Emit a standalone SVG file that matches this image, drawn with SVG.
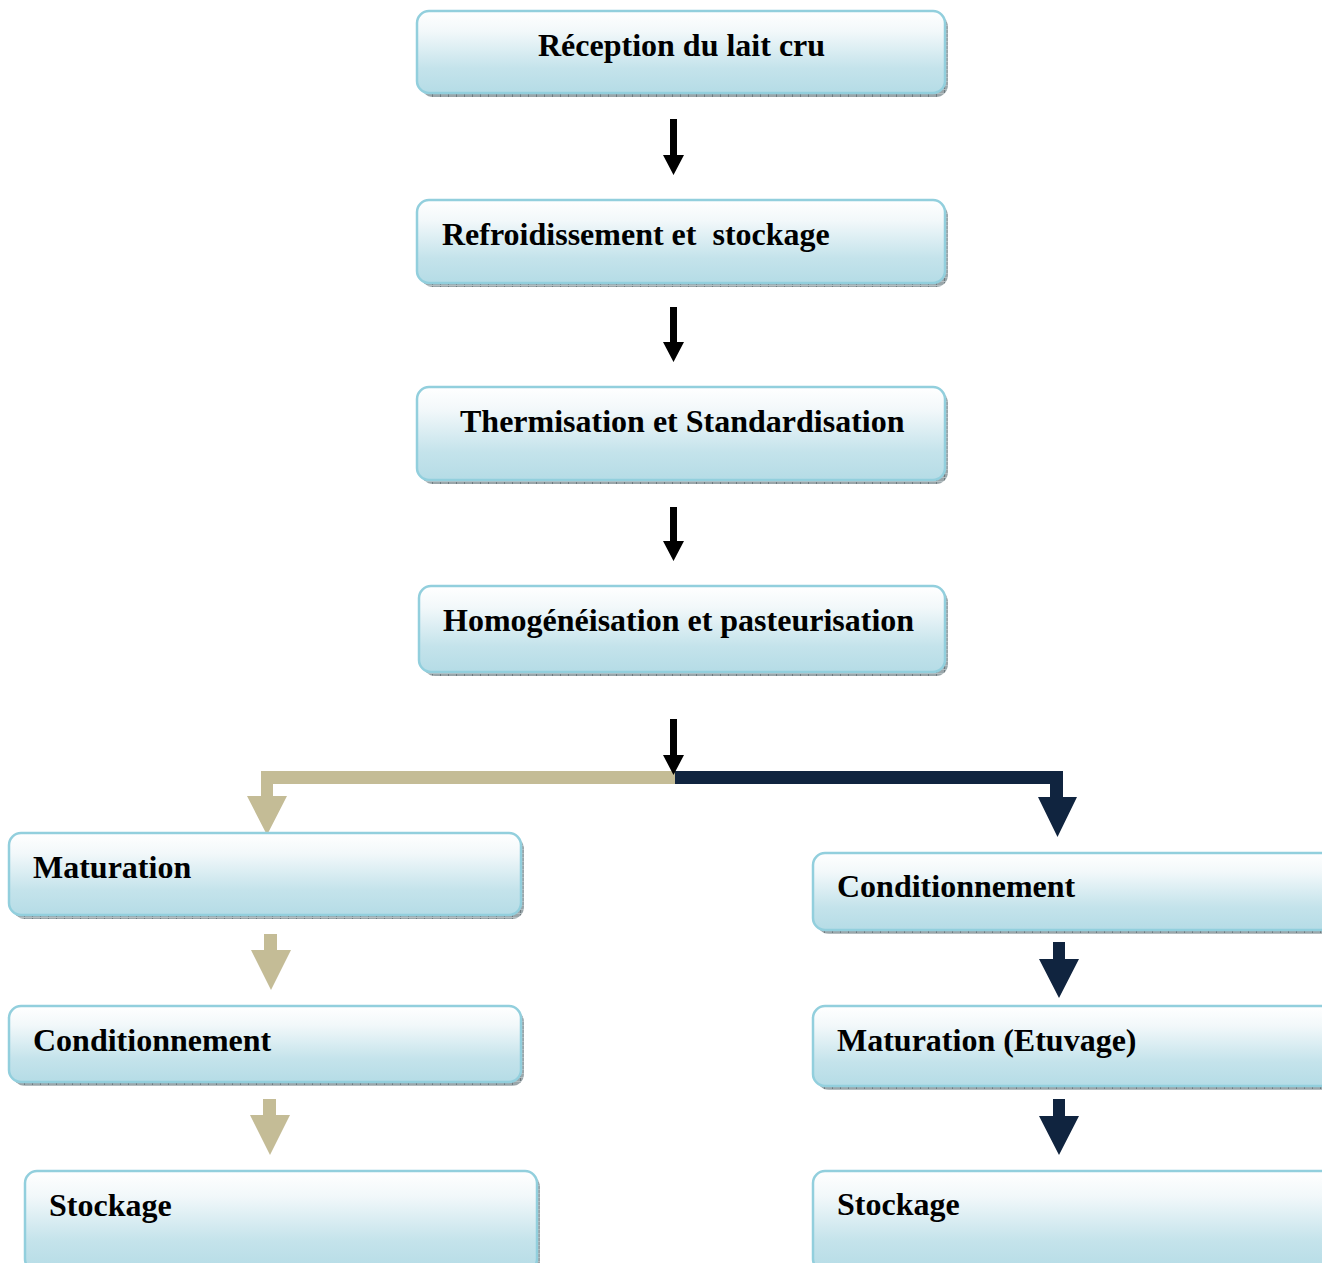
<svg xmlns="http://www.w3.org/2000/svg" width="1322" height="1263" viewBox="0 0 1322 1263">
  <defs>
    <linearGradient id="boxFill" x1="0" y1="0" x2="0" y2="1">
      <stop offset="0" stop-color="#ffffff"/>
      <stop offset="0.25" stop-color="#f2f8fa"/>
      <stop offset="0.7" stop-color="#c4e3eb"/>
      <stop offset="1" stop-color="#b5dce6"/>
    </linearGradient>
    <pattern id="hatch" width="8" height="4" patternUnits="userSpaceOnUse">
      <rect width="8" height="4" fill="#9aa6aa"/>
      <rect x="0" y="0" width="1" height="4" fill="#6f7b80"/>
      <rect x="0" y="1" width="8" height="1" fill="#b4bec1"/>
    </pattern>
  </defs>
  <style>
    .shadow { fill: url(#hatch); }
    .box { fill: url(#boxFill); stroke: #92cfdd; stroke-width: 2.5; }
    .label { font-family: "Liberation Serif", "Times New Roman", serif; font-weight: bold; font-size: 32px; fill: #000000; }
    .black { fill: #000000; }
    .tan { fill: #c4bc96; }
    .navy { fill: #10243f; }
  </style>

  <rect width="1322" height="1263" fill="#ffffff"/>

  <!-- connectors -->
  <g id="connectors">
    <!-- main column arrows -->
    <path class="black" d="M670,119 H677 V155 H684 L673.5,175 L663,155 H670 Z"/>
    <path class="black" d="M670,307 H677 V342 H684 L673.5,362 L663,342 H670 Z"/>
    <path class="black" d="M670,507 H677 V541 H684 L673.5,561 L663,541 H670 Z"/>
    <!-- split bar: left branch -->
    <path class="tan" d="M675,771 V784 H273 V796 H287 L267,835 L247,796 H261 V771 Z"/>
    <!-- split bar: right branch -->
    <path class="navy" d="M675,771 H1063 V797 H1077 L1057.5,837 L1038,797 H1050 V784 H675 Z"/>
    <path class="black" d="M670,719 H677 V755 H684 L673.5,775 L663,755 H670 Z"/>
    <!-- left column arrows -->
    <path class="tan" d="M264,934 H277 V950 H291 L271,990 L251,950 H264 Z"/>
    <path class="tan" d="M263,1099 H276 V1115 H290 L270,1155 L250,1115 H263 Z"/>
    <!-- right column arrows -->
    <path class="navy" d="M1053,942 H1065 V959 H1079 L1059,998 L1039,959 H1053 Z"/>
    <path class="navy" d="M1053,1099 H1065 V1116 H1079 L1059,1155 L1039,1116 H1053 Z"/>
  </g>

  <!-- main column nodes -->
  <g id="node-reception">
    <rect class="shadow" x="421" y="15" width="527" height="82" rx="12"/>
    <rect class="box" x="417" y="11" width="528" height="82" rx="12"/>
    <text class="label" x="538" y="56">Réception du lait cru</text>
  </g>
  <g id="node-refroidissement">
    <rect class="shadow" x="421" y="204" width="527" height="83" rx="12"/>
    <rect class="box" x="417" y="200" width="528" height="83" rx="12"/>
    <text class="label" x="442" y="245" xml:space="preserve">Refroidissement et  stockage</text>
  </g>
  <g id="node-thermisation">
    <rect class="shadow" x="421" y="391" width="527" height="93" rx="12"/>
    <rect class="box" x="417" y="387" width="528" height="93" rx="12"/>
    <text class="label" x="460" y="432">Thermisation et Standardisation</text>
  </g>
  <g id="node-homogeneisation">
    <rect class="shadow" x="423" y="590" width="525" height="86" rx="12"/>
    <rect class="box" x="419" y="586" width="526" height="86" rx="12"/>
    <text class="label" x="443" y="631">Homogénéisation et pasteurisation</text>
  </g>

  <!-- left branch -->
  <g id="node-maturation-left">
    <rect class="shadow" x="13" y="837" width="511" height="82" rx="12"/>
    <rect class="box" x="9" y="833" width="512" height="82" rx="12"/>
    <text class="label" x="33" y="878">Maturation</text>
  </g>
  <g id="node-conditionnement-left">
    <rect class="shadow" x="13" y="1010" width="511" height="76" rx="12"/>
    <rect class="box" x="9" y="1006" width="512" height="76" rx="12"/>
    <text class="label" x="33" y="1051">Conditionnement</text>
  </g>
  <g id="node-stockage-left">
    <rect class="shadow" x="29" y="1175" width="511" height="100" rx="12"/>
    <rect class="box" x="25" y="1171" width="512" height="100" rx="12"/>
    <text class="label" x="49" y="1216">Stockage</text>
  </g>

  <!-- right branch -->
  <g id="node-conditionnement-right">
    <rect class="shadow" x="817" y="857" width="520" height="77" rx="12"/>
    <rect class="box" x="813" y="853" width="520" height="77" rx="12"/>
    <text class="label" x="837" y="897">Conditionnement</text>
  </g>
  <g id="node-maturation-right">
    <rect class="shadow" x="817" y="1010" width="520" height="80" rx="12"/>
    <rect class="box" x="813" y="1006" width="520" height="80" rx="12"/>
    <text class="label" x="837" y="1051">Maturation (Etuvage)</text>
  </g>
  <g id="node-stockage-right">
    <rect class="shadow" x="817" y="1175" width="520" height="100" rx="12"/>
    <rect class="box" x="813" y="1171" width="520" height="100" rx="12"/>
    <text class="label" x="837" y="1215">Stockage</text>
  </g>
</svg>
